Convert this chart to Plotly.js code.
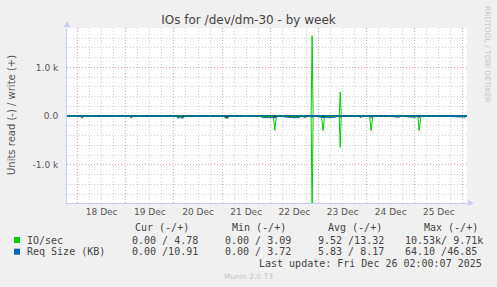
<!DOCTYPE html>
<html><head><meta charset="utf-8">
<script src="https://cdn.plot.ly/plotly-3.0.1.min.js"></script>
<style>html,body{margin:0;padding:0;background:#f0f0f0;}#chart{width:497px;height:287px;}</style>
</head><body><div id="chart"></div>
<script>
// ---- data (read values are shown below zero, Munin style) ----
const times = [
 "2025-12-17 18:30","2025-12-17 23:00","2025-12-18 01:30","2025-12-18 02:15","2025-12-18 03:00",
 "2025-12-18 12:00","2025-12-18 20:00","2025-12-19 02:00","2025-12-19 02:45","2025-12-19 03:30",
 "2025-12-19 12:00","2025-12-19 20:00","2025-12-20 01:30","2025-12-20 02:00","2025-12-20 03:00",
 "2025-12-20 04:30","2025-12-20 05:30","2025-12-20 12:00","2025-12-20 20:00","2025-12-21 01:00",
 "2025-12-21 01:30","2025-12-21 03:00","2025-12-21 03:30","2025-12-21 12:00","2025-12-21 19:00",
 "2025-12-21 20:00","2025-12-22 01:30","2025-12-22 02:15","2025-12-22 03:00","2025-12-22 04:00",
 "2025-12-22 10:30","2025-12-22 14:30","2025-12-22 15:30","2025-12-22 17:30","2025-12-22 18:30",
 "2025-12-22 20:20","2025-12-22 20:50","2025-12-22 21:20","2025-12-23 01:30","2025-12-23 02:20",
 "2025-12-23 03:00","2025-12-23 07:00","2025-12-23 10:20","2025-12-23 10:50","2025-12-23 11:20",
 "2025-12-23 20:00","2025-12-23 21:00","2025-12-23 22:00","2025-12-24 01:30","2025-12-24 02:15",
 "2025-12-24 03:00","2025-12-24 12:00","2025-12-24 16:00","2025-12-24 17:00","2025-12-25 00:00",
 "2025-12-25 01:30","2025-12-25 02:10","2025-12-25 03:00","2025-12-25 12:00","2025-12-26 01:00",
 "2025-12-26 02:00"
];
const ioRead = [
 0,0,0,20,0, 0,0,0,20,0, 0,0,0,30,5, 30,0,0,0,0,
 40,40,0,0,0, 5,5,290,5,0, 0,0,0,0,0, 0,2100,0,0,300,
 5,5,0,640,0, 0,0,0,0,300, 0,0,0,0,0, 0,300,0,0,0, 0
];
const ioWrite = [
 10,8,9,12,8, 10,9,9,12,9, 10,8,9,12,10, 11,9,10,9,9,
 12,12,9,10,9, 10,10,15,10,9, 9,9,9,9,9, 9,1650,9,9,14,
 10,10,9,490,9, 9,9,9,9,14, 9,10,9,9,9, 9,14,9,10,9, 5
];
const sizeRead = [
 0,0,0,40,0, 0,0,0,40,0, 0,0,0,45,20, 45,0,0,0,0,
 30,30,0,0,0, 30,30,35,30,0, 30,30,0,30,0, 0,30,0,25,35,
 30,30,0,30,0, 0,30,0,0,30, 0,0,25,0,25, 0,30,0,0,20, 0
];
const sizeWrite = [
 8,9,8,10,8, 7,8,8,10,8, 8,7,8,10,9, 10,8,8,8,8,
 10,10,8,8,8, 9,9,12,9,8, 8,8,8,8,8, 8,20,8,8,10,
 9,9,8,15,8, 8,8,8,8,10, 8,8,8,8,8, 8,10,8,8,8, 11
];
const legendRows = [
 {name:"IO/sec", color:"#00cc00", cur:"0.00 / 4.78", min:"0.00 / 3.09", avg:"9.52 /13.32", max:"10.53k/ 9.71k"},
 {name:"Req Size (KB)", color:"#0066b3", cur:"0.00 /10.91", min:"0.00 / 3.72", avg:"5.83 / 8.17", max:"64.10 /46.85"}
];
const yTickVals = [-1000, 0, 1000];
const yTickText = ["-1.0 k", "0.0", "1.0 k"];

// ---- geometry helpers (pixel -> paper) ----
const L = 67, T = 28, W = 400, H = 175;
const X = px => (px - L) / W;
const Y = py => (T + H - py) / H;

const neg = a => a.map(v => -v);
const green = "#00cc00", blue = "#0066b3";
const traces = [
 {x: times, y: neg(ioRead), mode: "lines", line: {color: green, width: 1}, hoverinfo: "skip"},
 {x: times, y: ioWrite, mode: "lines", line: {color: green, width: 1}, hoverinfo: "skip"},
 {x: times, y: neg(sizeRead), mode: "lines", line: {color: blue, width: 1}, hoverinfo: "skip"},
 {x: times, y: sizeWrite, mode: "lines", line: {color: blue, width: 1}, hoverinfo: "skip"}
];

const txt = "#444";
const ann = [];
const mono = {family: "DejaVu Sans Mono", size: 10, color: txt};
function A(text, px, py, opts) {
  ann.push(Object.assign({text: text, xref: "paper", yref: "paper", x: X(px), y: Y(py),
    xanchor: "left", yanchor: "middle", showarrow: false, font: mono, borderpad: 0}, opts || {}));
}
A("Cur (-/+)", 134, 227); A("Min (-/+)", 231, 227); A("Avg (-/+)", 327, 227); A("Max (-/+)", 423, 227);
const shapes = [];
legendRows.forEach((r, i) => {
  const yy = 240 + i * 11.7;
  A(r.name, 26, yy); A(r.cur, 131, yy); A(r.min, 224, yy); A(r.avg, 317, yy); A(r.max, 404, yy);
  shapes.push({type: "rect", xref: "paper", yref: "paper", x0: X(14), x1: X(20), y0: Y(yy - 3), y1: Y(yy + 3),
    fillcolor: r.color, line: {width: 0}});
});
A("Last update: Fri Dec 26 02:00:07 2025", 483, 263.3, {xanchor: "right"});
A("Munin 2.0.73", 248, 276, {xanchor: "center", font: {family: "DejaVu Sans", size: 7.5, color: "#c4c4c4"}});
A("RRDTOOL / TOBI OETIKER", 488, 54, {xanchor: "center", textangle: 90, font: {family: "DejaVu Sans", size: 7.5, color: "#c8c8c8"}});
A("Units read (-) / write (+)", 11, 115, {xanchor: "center", textangle: -90, font: {family: "DejaVu Sans", size: 10, color: "#555"}});

// axis arrows
const axc = "#c8ccf4";
shapes.push({type: "path", xref: "paper", yref: "paper",
  path: `M ${X(64)},${Y(27)} L ${X(70)},${Y(27)} L ${X(67)},${Y(21)} Z`, fillcolor: axc, line: {width: 0}});
shapes.push({type: "path", xref: "paper", yref: "paper",
  path: `M ${X(468)},${Y(200)} L ${X(468)},${Y(206)} L ${X(474)},${Y(203)} Z`, fillcolor: axc, line: {width: 0}});

const majorGrid = "#e6a8a8", minorGrid = "#d4d4d4", dots = "1px,2px";
const layout = {
  width: 497, height: 287,
  margin: {l: L, r: 497 - L - W, t: T, b: 287 - T - H},
  paper_bgcolor: "#f0f0f0", plot_bgcolor: "#ffffff",
  showlegend: false,
  title: {text: "IOs for /dev/dm-30 - by week", x: 0.5, xref: "container", y: 1 - 20 / 287, yref: "container",
    xanchor: "center", yanchor: "middle", font: {family: "DejaVu Sans", size: 12, color: "#444"}},
  xaxis: {type: "date", range: ["2025-12-17 18:43", "2025-12-26 02:00"],
    tick0: "2025-12-18", dtick: 86400000, tickformat: "%d %b", ticklabelmode: "period",
    showgrid: true, gridcolor: majorGrid, griddash: dots, gridwidth: 1,
    minor: {dtick: 21600000, tick0: "2025-12-18", showgrid: true, gridcolor: minorGrid, griddash: dots},
    ticks: "", tickfont: {family: "DejaVu Sans", size: 9, color: "#555"},
    showline: true, linecolor: axc, linewidth: 1, zeroline: false, fixedrange: true},
  yaxis: {range: [-1783, 1809], tickmode: "array", tickvals: yTickVals, ticktext: yTickText,
    showgrid: true, gridcolor: majorGrid, griddash: dots,
    minor: {tickmode: "linear", tick0: 0, dtick: 200, showgrid: true, gridcolor: minorGrid, griddash: dots},
    ticks: "outside", ticklen: 6, tickcolor: "rgba(0,0,0,0)",
    tickfont: {family: "DejaVu Sans", size: 9, color: "#555"},
    zeroline: true, zerolinecolor: "#000000", zerolinewidth: 1.5, layer: "above traces",
    showline: true, linecolor: axc, linewidth: 1, fixedrange: true},
  annotations: ann, shapes: shapes
};
Plotly.newPlot("chart", traces, layout, {staticPlot: true, displayModeBar: false});
</script></body></html>
